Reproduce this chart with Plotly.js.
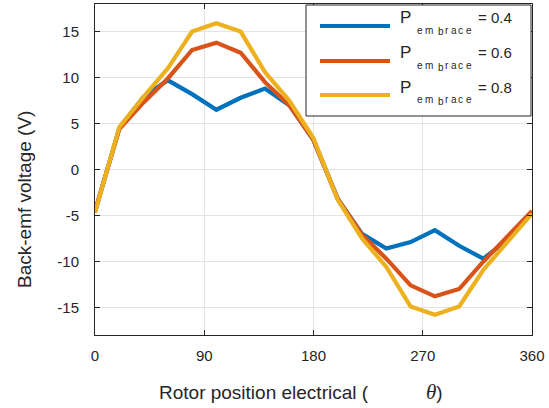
<!DOCTYPE html>
<html>
<head>
<meta charset="utf-8">
<script src="https://cdn.plot.ly/plotly-3.0.1.min.js"></script>
<style>html,body{margin:0;padding:0;background:#fff;}#chart{width:549px;height:408px;}</style>
</head>
<body>
<div id="chart"></div>
<script>
const theta = [0,20,40,60,80,100,120,140,160,180,200,220,240,260,280,300,320,340,360];
const emf04 = [-4.6,4.5,7.9,9.7,8.2,6.5,7.8,8.8,7.0,3.2,-3.2,-7.0,-8.6,-7.9,-6.6,-8.3,-9.7,-7.6,-4.6];
const emf06 = [-4.5,4.4,7.3,9.9,13.0,13.8,12.7,9.5,7.0,3.2,-3.2,-7.1,-9.7,-12.6,-13.8,-13.0,-10.0,-7.2,-4.5];
const emf08 = [-4.7,4.6,7.9,11.0,15.0,15.9,15.0,10.6,7.5,3.4,-3.3,-7.5,-10.6,-14.9,-15.8,-14.9,-10.9,-7.8,-4.8];
const seriesNames = ["0.4","0.6","0.8"];
const seriesColors = ["#0072BD","#D95319","#EDB120"];
const xTicks = [0,90,180,270,360];
const yTicks = [-15,-10,-5,0,5,10,15];
const yTickText = ["-15","-10","-5","0","5","10","15"];
const xTitle = "Rotor position electrical (";
const yTitle = "Back-emf voltage (V)";
const subLetters = ["e","m","b","r","a","c","e"];

const allY = [emf04, emf06, emf08];
const traces = allY.map((y,i)=>({
  x: theta, y: y, type:'scatter', mode:'lines',
  name: 'P_embrace = ' + seriesNames[i],
  line:{color:seriesColors[i], width:4.2},
  showlegend:false, hoverinfo:'skip'
}));

const txtCol = '#262626';
const fontFam = '"Liberation Sans", Arial, Helvetica, sans-serif';
const L = 95, R = 532, T = 4, B = 335, W = 549, H = 408;
const px = v => (v - L)/(R - L);
const py = v => (B - v)/(B - T);
const shapes = [{type:'rect', xref:'paper', yref:'paper', x0:px(306), x1:px(531), y0:py(116), y1:py(5),
  line:{color:txtCol,width:1}, fillcolor:'#fff', layer:'above'}];
const annotations = [];
const rowY = [26, 61, 95];
const letterX = [416, 424, 437, 444, 450, 457, 465];
const letterDy = [4, 4, 6, 4, 4, 4, 4];
seriesNames.forEach((n,i)=>{
  const r = rowY[i];
  shapes.push({type:'line', xref:'paper', yref:'paper', x0:px(320), x1:px(390), y0:py(r), y1:py(r),
    line:{color:seriesColors[i], width:4.2}, layer:'above'});
  const ann = (x, y, text, size) => annotations.push({xref:'paper', yref:'paper', x:px(x), y:py(y),
    xanchor:'left', yanchor:'middle', text:text, showarrow:false, borderpad:0,
    font:{size:size, color:txtCol, family:fontFam}});
  ann(399, r-8, 'P', 17);
  subLetters.forEach((c,k)=>ann(letterX[k], r+letterDy[k], c, 10));
  ann(477, r-8, '= ' + n, 15);
});
// axis titles
annotations.push({xref:'paper', yref:'paper', x:px(371), y:py(392), xanchor:'right', yanchor:'middle',
  text:xTitle, showarrow:false, font:{size:19, color:txtCol, family:fontFam}});
annotations.push({xref:'paper', yref:'paper', x:px(424), y:py(392), xanchor:'left', yanchor:'middle',
  text:'<span style="font-family:\'Liberation Serif\',serif;font-style:italic;font-size:21px">θ</span>)', showarrow:false,
  font:{size:19, color:txtCol, family:fontFam}});
annotations.push({xref:'paper', yref:'paper', x:px(25), y:py(200), xanchor:'center', yanchor:'middle', textangle:-90,
  text:yTitle, showarrow:false, font:{size:19, color:txtCol, family:fontFam}});

const axisCommon = {
  showline:true, linecolor:txtCol, linewidth:1, mirror:'ticks',
  ticks:'inside', ticklen:5, tickcolor:txtCol,
  showgrid:true, gridcolor:'#e3e3e3', gridwidth:1, zeroline:false,
  tickfont:{size:15, color:txtCol, family:fontFam}
};

const layout = {
  width:W, height:H,
  margin:{l:L, r:W-R, t:T, b:H-B},
  paper_bgcolor:'#fff', plot_bgcolor:'#fff',
  font:{family:fontFam, color:txtCol},
  xaxis: Object.assign({}, axisCommon, {
    range:[0,360], tickvals:xTicks, ticktext:xTicks.map(String),
    ticklabelstandoff:7
  }),
  yaxis: Object.assign({}, axisCommon, {
    range:[-18,18], tickvals:yTicks, ticktext:yTickText,
    ticklabelstandoff:12
  }),
  shapes: shapes,
  annotations: annotations,
  showlegend:false
};

Plotly.newPlot('chart', traces, layout, {displayModeBar:false, staticPlot:true});
</script>
</body>
</html>
